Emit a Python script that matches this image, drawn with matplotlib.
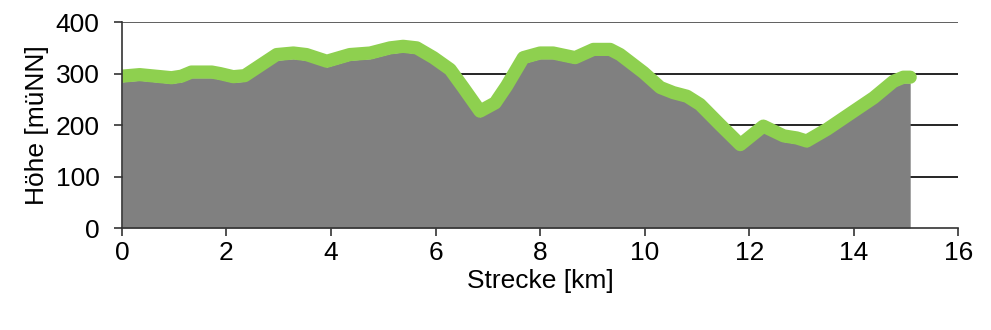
import matplotlib
matplotlib.use("Agg")
import matplotlib.pyplot as plt

distance_km = [0.0, 0.34, 0.95, 1.14, 1.33, 1.72, 1.88, 2.13, 2.35, 2.96, 3.28, 3.53,
               3.92, 4.36, 4.75, 5.13, 5.38, 5.64, 5.96, 6.28, 6.53, 6.85, 7.14, 7.36,
               7.68, 8.0, 8.25, 8.67, 9.02, 9.34, 9.53, 9.98, 10.3, 10.55, 10.81, 11.06,
               11.44, 11.83, 12.27, 12.66, 12.91, 13.1, 13.49, 14.0, 14.38, 14.76, 14.95, 15.08]
elevation_m = [284, 287, 281, 284, 292, 292, 289, 283, 285, 326, 329, 326,
               313, 326, 329, 339, 342, 339, 320, 297, 262, 216, 232, 265,
               320, 329, 329, 320, 336, 336, 326, 291, 262, 252, 245, 229,
               190, 151, 187, 168, 164, 158, 181, 216, 242, 274, 282, 282]

x_ticks = [0, 2, 4, 6, 8, 10, 12, 14, 16]
y_ticks = [0, 100, 200, 300, 400]

plt.rcParams['font.family'] = ['Liberation Sans', 'DejaVu Sans']

fig = plt.figure(figsize=(9.91, 3.30), dpi=100)
ax = fig.add_axes([0.123, 0.309, 0.844, 0.624])

ax.fill_between(distance_km, 0, elevation_m, color='#808080', lw=0, zorder=2)
line_offset = 11
ax.plot(distance_km, [e + line_offset for e in elevation_m], color='#8ed04f', lw=9.5,
        solid_capstyle='round', solid_joinstyle='round', zorder=3)

ax.set_xlim(0, 16)
ax.set_ylim(0, 400)
ax.set_xticks(x_ticks)
ax.set_yticks(y_ticks)
for v in y_ticks[1:]:
    ax.axhline(v, color='#000000' if v < 400 else '#444444', lw=1.2, zorder=1)

for s in ['top', 'right']:
    ax.spines[s].set_visible(False)
for s in ['left', 'bottom']:
    ax.spines[s].set_color('#333333')
    ax.spines[s].set_linewidth(1.2)
    ax.spines[s].set_zorder(4)
ax.tick_params(direction='out', length=6, width=1.2, color='#333333', labelsize=19)
ax.tick_params(axis='x', pad=3)
ax.tick_params(axis='y', pad=10)
ax.set_xlabel('Strecke [km]', fontsize=19, labelpad=3)
ax.set_ylabel('Höhe [müNN]', fontsize=19, labelpad=5)

fig.savefig('out.png', dpi=100)
